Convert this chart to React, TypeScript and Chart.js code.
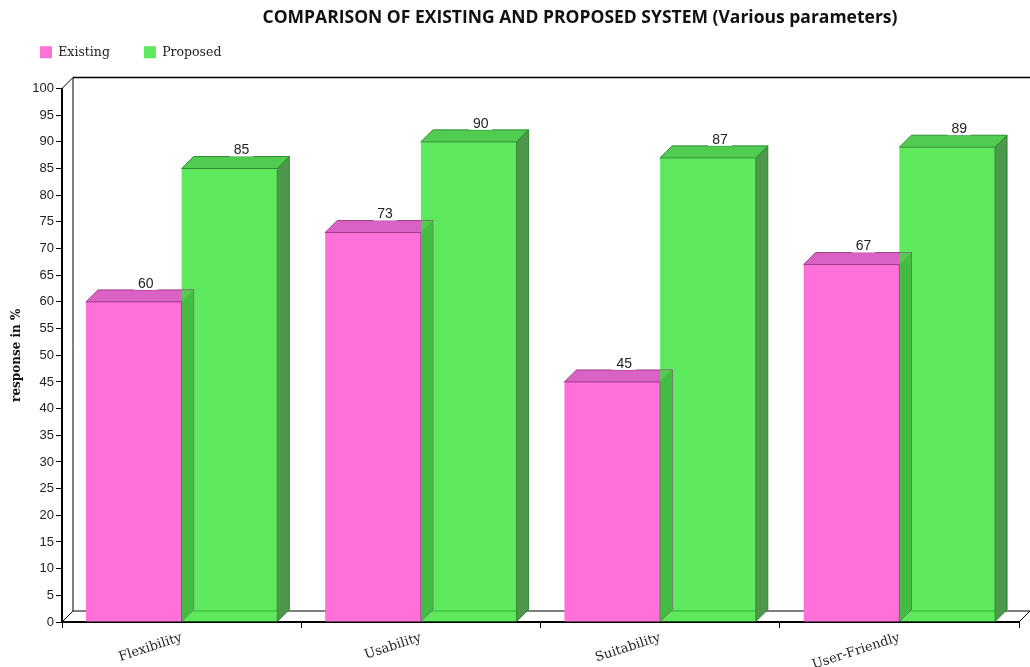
import React, { useEffect, useRef } from 'react';
import { Chart, registerables } from 'chart.js';

Chart.register(...registerables);

// ---- data ----
const categories: string[] = ['Flexibility', 'Usability', 'Suitability', 'User-Friendly'];
const existingValues: number[] = [60, 73, 45, 67];
const proposedValues: number[] = [85, 90, 87, 89];
const seriesNames: string[] = ['Existing', 'Proposed'];
const chartTitle = 'COMPARISON OF EXISTING AND PROPOSED SYSTEM (Various parameters)';
const yAxisTitle = 'response in %';
const yMin = 0;
const yMax = 100;
const yStep = 5;

// ---- style ----
const DEPTH = 12;
const faceStyles = [
  { front: 'rgb(255,112,216)', top: 'rgb(218,98,196)', side: 'rgb(120,40,110)', edge: 'rgba(150,50,130,0.9)' },
  { front: 'rgba(54,226,54,0.8)', top: 'rgb(80,205,80)', side: 'rgb(78,152,78)', edge: 'rgba(40,130,40,0.9)' },
];

function facePaths(ctx: CanvasRenderingContext2D, l: number, r: number, y: number, base: number) {
  const side = new Path2D();
  side.moveTo(r, y);
  side.lineTo(r + DEPTH, y - DEPTH);
  side.lineTo(r + DEPTH, base - DEPTH);
  side.lineTo(r, base);
  side.closePath();
  const top = new Path2D();
  top.moveTo(l, y);
  top.lineTo(l + DEPTH, y - DEPTH);
  top.lineTo(r + DEPTH, y - DEPTH);
  top.lineTo(r, y);
  top.closePath();
  return { side, top };
}

const bar3dPlugin = {
  id: 'bar3d',
  afterLayout(chart: any) {
    const t = chart.titleBlock;
    if (t) {
      t.left = t.left + 135;
    }
  },
  beforeDatasetsDraw(chart: any) {
    const { ctx, chartArea } = chart;
    const { left, right, top, bottom } = chartArea;
    const D = DEPTH - 1;
    ctx.save();
    ctx.strokeStyle = '#000';
    ctx.lineWidth = 1;
    ctx.beginPath();
    ctx.moveTo(left, top);
    ctx.lineTo(left + D, top - D);
    ctx.moveTo(left + D, top - D);
    ctx.lineTo(left + D, bottom - D);
    ctx.lineTo(right + D + 20, bottom - D);
    ctx.moveTo(left, bottom);
    ctx.lineTo(left + D, bottom - D);
    ctx.moveTo(right, bottom);
    ctx.lineTo(right + D, bottom - D);
    ctx.stroke();
    ctx.lineWidth = 1.6;
    ctx.beginPath();
    ctx.moveTo(left + D, top - D);
    ctx.lineTo(right + D + 20, top - D);
    ctx.stroke();
    ctx.restore();
  },
  afterDatasetDraw(chart: any, args: any) {
    const { ctx } = chart;
    const st = faceStyles[args.index];
    const meta = args.meta;
    ctx.save();
    ctx.lineWidth = 1;
    meta.data.forEach((bar: any, i: number) => {
      const { x, y, base, width } = bar.getProps(['x', 'y', 'base', 'width'], true);
      const l = x - width / 2;
      const r = x + width / 2;
      const { side, top } = facePaths(ctx, l, r, y, base);
      ctx.strokeStyle = st.edge;
      ctx.fillStyle = st.side;
      ctx.fill(side);
      ctx.stroke(side);
      ctx.fillStyle = st.top;
      ctx.fill(top);
      ctx.stroke(top);
      // the following (translucent) bar of the group lies in front of these faces
      const nextMeta = chart.getDatasetMeta(args.index + 1);
      if (nextMeta && nextMeta.data && nextMeta.data[i]) {
        ctx.save();
        const clip = new Path2D();
        clip.addPath(side);
        clip.addPath(top);
        ctx.clip(clip);
        nextMeta.data[i].draw(ctx);
        ctx.restore();
      }
    });
    ctx.restore();
  },
  afterDatasetsDraw(chart: any) {
    const { ctx } = chart;
    ctx.save();
    ctx.font = '14px "Liberation Sans"';
    ctx.textAlign = 'center';
    ctx.textBaseline = 'middle';
    chart.data.datasets.forEach((ds: any, di: number) => {
      const meta = chart.getDatasetMeta(di);
      meta.data.forEach((bar: any, i: number) => {
        const { x, y } = bar.getProps(['x', 'y'], true);
        const text = String(ds.data[i]);
        const cx = x + DEPTH;
        const cy = y - DEPTH - 7;
        const w = ctx.measureText(text).width + 8;
        const h = 14;
        ctx.fillStyle = '#fff';
        ctx.fillRect(cx - w / 2, cy - h / 2, w, h);
        ctx.fillStyle = '#222';
        ctx.fillText(text, cx, cy + 1);
      });
    });
    ctx.restore();
  },
};

export default function App() {
  const ref = useRef<HTMLCanvasElement | null>(null);

  useEffect(() => {
    if (!ref.current) return;
    const chart = new Chart(ref.current, {
      type: 'bar',
      data: {
        labels: categories,
        datasets: [
          {
            label: seriesNames[0],
            data: existingValues,
            backgroundColor: faceStyles[0].front,
            borderWidth: 0,
            categoryPercentage: 0.8,
            barPercentage: 1.0,
          },
          {
            label: seriesNames[1],
            data: proposedValues,
            backgroundColor: faceStyles[1].front,
            borderWidth: 0,
            categoryPercentage: 0.8,
            barPercentage: 1.0,
          },
        ],
      },
      options: {
        responsive: false,
        animation: false,
        layout: { padding: { left: 6, right: 11, top: 0, bottom: 0 } },
        plugins: {
          title: {
            display: true,
            text: chartTitle,
            color: '#111',
            font: { family: '"Open Sans"', size: 17.5, weight: 'bold', lineHeight: 1.2 },
            padding: { top: 7.5, bottom: -16.5 },
          },
          subtitle: {
            display: true,
            text: '',
            weight: 500,
            font: { size: 10, lineHeight: 2.0 },
            padding: 0,
          },
          legend: {
            display: true,
            position: 'top',
            align: 'start',
            labels: {
              boxWidth: 12,
              boxHeight: 12,
              padding: 34,
              color: '#222',
              font: { family: '"DejaVu Serif"', size: 12.5 },
            },
          },
          tooltip: { enabled: false },
        },
        scales: {
          x: {
            grid: {
              display: true,
              drawOnChartArea: false,
              drawTicks: true,
              tickLength: 6,
              color: '#000',
              offset: true,
            },
            border: { display: true, color: '#000', width: 2 },
            ticks: {
              minRotation: 18,
              maxRotation: 18,
              padding: 2,
              color: '#222',
              font: { family: '"DejaVu Serif"', size: 13 },
            },
            afterFit: (s: any) => {
              s.height = 45;
              s.paddingLeft = 0;
              s.paddingRight = 0;
            },
          },
          y: {
            min: yMin,
            max: yMax,
            ticks: {
              stepSize: yStep,
              padding: 2,
              color: '#222',
              font: { family: '"Liberation Sans"', size: 13 },
            },
            grid: {
              display: true,
              drawOnChartArea: false,
              drawTicks: true,
              tickLength: 6,
              color: '#000',
            },
            border: { display: true, color: '#000', width: 2 },
            title: {
              display: true,
              text: yAxisTitle,
              color: '#111',
              font: { family: '"DejaVu Serif"', size: 12, weight: 'bold', lineHeight: 1.2 },
              padding: { top: 4, bottom: 0 },
            },
            afterFit: (s: any) => {
              s.width = 56;
            },
          },
        },
      },
      plugins: [bar3dPlugin],
    });
    return () => chart.destroy();
  }, []);

  return (
    <div style={{ position: 'absolute', left: 0, top: 0, width: 1030, height: 667, background: '#fff' }}>
      <canvas ref={ref} width={1030} height={667} style={{ display: 'block' }} />
    </div>
  );
}
